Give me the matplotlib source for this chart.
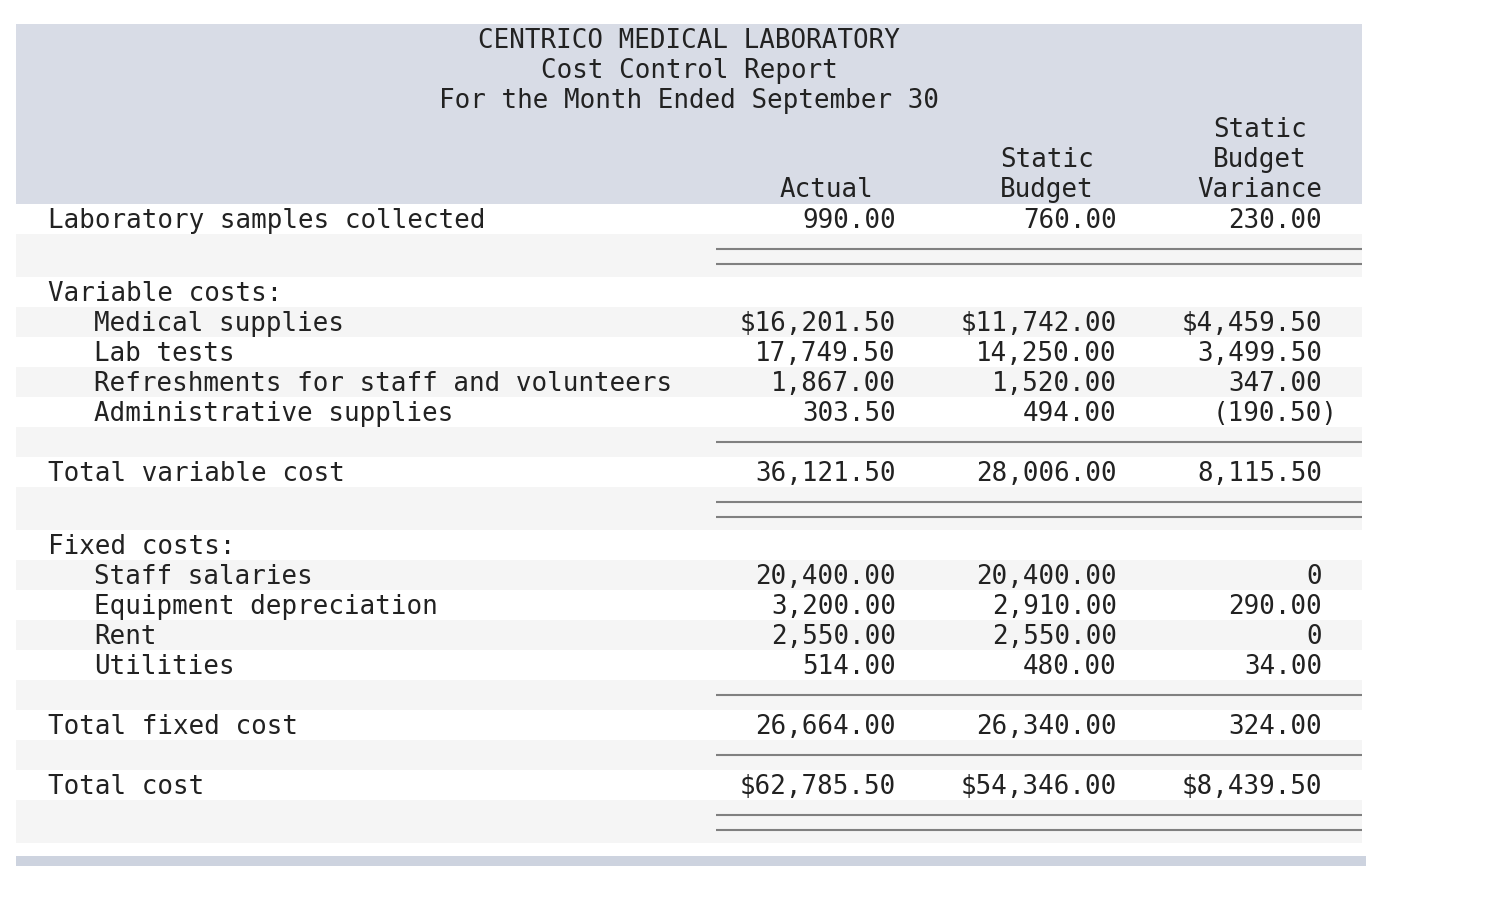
import matplotlib
matplotlib.use("Agg")
import matplotlib.pyplot as plt

plt.rcParams['font.family'] = ['DejaVu Sans Mono']

title_lines = ["CENTRICO MEDICAL LABORATORY", "Cost Control Report",
               "For the Month Ended September 30"]
col_headers = [["Actual"], ["Static", "Budget"], ["Static", "Budget", "Variance"]]

# row kinds: 'item', 'section', 'indent', 'line1', 'line2'
row_kinds = ["item", "line2", "section", "indent", "indent", "indent", "indent",
             "line1", "item", "line2", "section", "indent", "indent", "indent",
             "indent", "line1", "item", "line1", "item", "line2"]
row_labels = ["Laboratory samples collected", "", "Variable costs:", "Medical supplies",
              "Lab tests", "Refreshments for staff and volunteers", "Administrative supplies",
              "", "Total variable cost", "", "Fixed costs:", "Staff salaries",
              "Equipment depreciation", "Rent", "Utilities", "", "Total fixed cost", "",
              "Total cost", ""]
actual = [990.00, None, None, 16201.50, 17749.50, 1867.00, 303.50, None, 36121.50, None,
          None, 20400.00, 3200.00, 2550.00, 514.00, None, 26664.00, None, 62785.50, None]
budget = [760.00, None, None, 11742.00, 14250.00, 1520.00, 494.00, None, 28006.00, None,
          None, 20400.00, 2910.00, 2550.00, 480.00, None, 26340.00, None, 54346.00, None]
variance = [230.00, None, None, 4459.50, 3499.50, 347.00, -190.50, None, 8115.50, None,
            None, 0, 290.00, 0, 34.00, None, 324.00, None, 8439.50, None]
dollar_rows = ["Medical supplies", "Total cost"]


def fmt(v, dollar):
    if v == 0:
        return "0"
    s = f"{abs(v):,.2f}"
    if dollar:
        s = "$" + s
    if v < 0:
        s = "(" + s + ")"
    return s


W, H = 1486, 908
fig = plt.figure(figsize=(W / 100, H / 100), dpi=100)
ax = fig.add_axes([0, 0, 1, 1])
ax.set_xlim(0, W)
ax.set_ylim(H, 0)
ax.axis("off")

FS = 18.6
TXT = "#222222"
LEFT, RIGHT = 16, 1362
LINE_X0 = 716
col_right = [896, 1117, 1322]
col_center = [826, 1047, 1260]
char_w = 15.6

# header band
ax.add_patch(plt.Rectangle((LEFT, 24), RIGHT - LEFT, 180, color="#d8dce6", lw=0))
for i, t in enumerate(title_lines):
    ax.text(689, 48 + 30 * i, t, ha="center", va="baseline", fontsize=FS, color=TXT)
for c, lines in enumerate(col_headers):
    n = len(lines)
    for j, t in enumerate(lines):
        ax.text(col_center[c], 197 - 30 * (n - 1 - j), t, ha="center", va="baseline",
                fontsize=FS, color=TXT)

# body rows
y = 204
for i, kind in enumerate(row_kinds):
    h = 43 if kind == "line2" else 30
    if i % 2 == 1:
        ax.add_patch(plt.Rectangle((LEFT, y), RIGHT - LEFT, h, color="#f5f5f5", lw=0))
    if kind == "line2":
        for off in (14.5, 29.5):
            ax.plot([LINE_X0, RIGHT], [y + off, y + off], color="#808080", lw=1.5,
                    solid_capstyle="butt")
    elif kind == "line1":
        ax.plot([LINE_X0, RIGHT], [y + 15, y + 15], color="#808080", lw=1.5,
                solid_capstyle="butt")
    else:
        x = 94 if kind == "indent" else 48
        ax.text(x, y + 24, row_labels[i], ha="left", va="baseline", fontsize=FS, color=TXT)
        dollar = row_labels[i] in dollar_rows
        for c, vals in enumerate((actual, budget, variance)):
            v = vals[i]
            if v is None:
                continue
            xr = col_right[c] + (char_w if v < 0 else 0)
            ax.text(xr, y + 24, fmt(v, dollar), ha="right", va="baseline",
                    fontsize=FS, color=TXT)
    y += h

# bottom bar
ax.add_patch(plt.Rectangle((LEFT, 856), 1366 - LEFT, 10, color="#cdd3df", lw=0))

fig.savefig("out.png", dpi=100)
